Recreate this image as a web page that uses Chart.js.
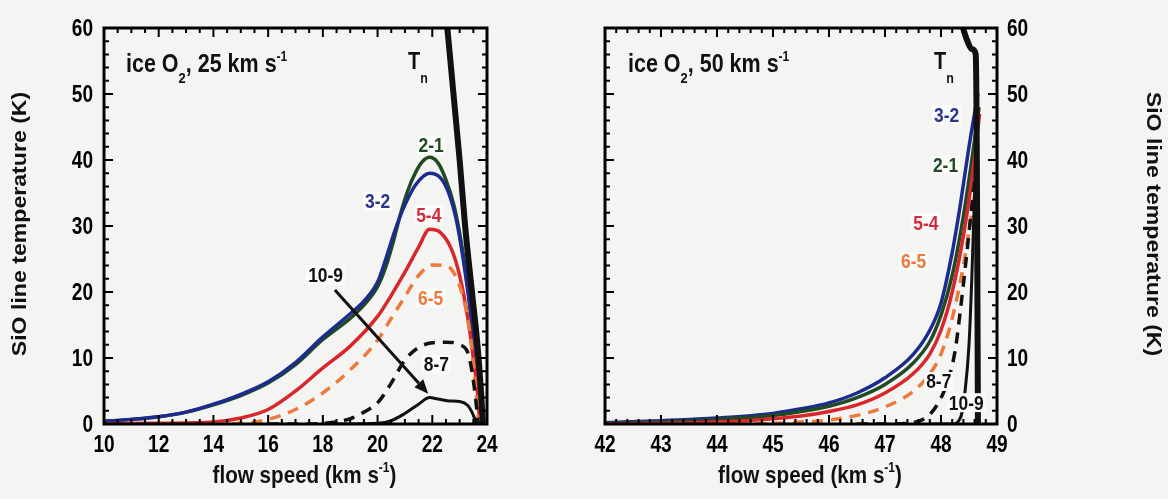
<!DOCTYPE html>
<html><head><meta charset="utf-8">
<script src="https://cdn.jsdelivr.net/npm/chart.js@4.4.0/dist/chart.umd.min.js"></script>
<style>
html,body{margin:0;padding:0;background:#f4f4f2;}
#wrap{position:relative;width:1168px;height:499px;overflow:hidden;}
canvas{position:absolute;top:0;}
</style></head><body>
<div id="wrap"><canvas id="c1" width="584" height="499" style="left:0"></canvas><canvas id="c2" width="584" height="499" style="left:584px"></canvas></div>
<script>
// ---------- Left panel: ice O2, 25 km/s ----------
const L_Tn_x  = [22.45,22.55,23.0,23.2,23.45,23.65,23.78,23.85];
const L_Tn_y  = [65,60,40,30,20,12,5,0];
const L_32_x  = [10,11,12,13,14,15,16,17,18,19,19.5,20,20.3,20.65,21,21.4,21.9,22.3,22.6,22.9,23.2,23.45,23.6,23.72,23.76];
const L_32_y  = [0.4,0.7,1.1,1.8,3.0,4.5,6.4,9.3,13.2,16.7,18.6,21.5,25.0,29.5,33.2,36.3,38.0,37.3,35.0,30.5,23.0,15.0,8.0,2.0,0];
const L_21_x  = [10,11,12,13,14,15,16,17,18,19,19.5,20,20.3,20.6,20.85,21.1,21.4,21.65,21.9,22.2,22.5,22.8,23.1,23.35,23.55,23.68,23.76];
const L_21_y  = [0.4,0.7,1.1,1.8,2.9,4.3,6.2,9.0,12.8,16.0,18.0,20.8,23.8,28.0,32.0,35.3,38.2,39.8,40.4,39.6,37.0,33.0,26.5,19.0,11.0,4.5,0];
const L_54_x  = [10,12,14,15,16,17,18,19,20,20.5,21,21.5,21.9,22.3,22.7,23.0,23.3,23.5,23.65,23.75];
const L_54_y  = [0.05,0.1,0.3,0.9,2.2,5.0,8.5,11.8,16.3,19.5,23.0,26.8,29.5,29.0,26.5,22.5,16.0,10.0,5.0,0];
const L_65_x  = [14,15,16,17,18,19,20,20.5,21,21.5,22,22.5,22.9,23.2,23.4,23.55,23.7];
const L_65_y  = [0,0.1,0.7,2.2,4.7,8.2,12.7,16.0,19.3,22.5,24.1,24.0,22.0,18.0,13.0,7.0,0];
const L_87_x  = [16,17,18,18.5,19,19.5,20,20.5,21,21.5,22,22.5,23,23.3,23.45,23.58,23.68];
const L_87_y  = [0,0,0.1,0.3,0.8,1.8,3.2,6.2,9.7,11.6,12.3,12.4,12.0,10.8,8.0,4.0,0];
const L_109_x = [18,19,20,20.5,21,21.5,21.9,22.2,22.6,23,23.3,23.45,23.55,23.62];
const L_109_y = [0,0,0.1,0.5,1.6,3.0,4.0,3.8,3.5,3.4,2.8,1.8,0.8,0];
const L_arrow_x = [18.44,21.85];
const L_arrow_y = [20.3,4.6];

// ---------- Right panel: ice O2, 50 km/s ----------
const R_Tn_x  = [48.36,48.45,48.56,48.62,48.64,48.65,48.66];
const R_Tn_y  = [61,58.5,56.8,56.0,40,20,0];
const R_32_x  = [42,43,44,45,45.5,46,46.5,47,47.5,47.8,48,48.2,48.35,48.5,48.66];
const R_32_y  = [0.2,0.5,0.9,1.6,2.3,3.2,4.7,7.0,10.5,14.2,18.3,26.0,33.5,42.0,50.0];
const R_21_x  = [42,43,44,45,45.5,46,46.5,47,47.5,47.8,48,48.2,48.4,48.55,48.68];
const R_21_y  = [0.1,0.3,0.7,1.3,1.9,2.7,4.0,6.0,9.2,12.5,16.5,22.5,31.5,40.0,48.0];
const R_54_x  = [42,43,44,45,45.5,46,46.5,47,47.5,47.8,48,48.2,48.4,48.55,48.69];
const R_54_y  = [0,0.1,0.3,0.8,1.2,1.9,2.9,4.7,7.6,10.6,14.2,20.0,28.5,37.0,47.0];
const R_65_x  = [44,45,45.5,46,46.5,47,47.5,47.8,48,48.2,48.4,48.55,48.66];
const R_65_y  = [0,0.1,0.3,0.6,1.3,2.6,4.9,7.6,10.6,16.0,24.0,32.0,38.0];
const R_87_x  = [46.5,47,47.4,47.7,47.9,48.1,48.25,48.35,48.45,48.55,48.63];
const R_87_y  = [0,0,0.1,0.8,2.5,6.0,11.0,17.5,25.0,33.0,39.0];
const R_109_x = [47.8,48.2,48.35,48.43,48.5,48.55,48.6,48.63];
const R_109_y = [0,0,1.0,5.0,12.0,22.0,35.0,45.0];

// ticks: min, max, major step, minor step
const L_xTicks = [10,24,2,0.5];
const R_xTicks = [42,49,1,0.2];
const yTicks   = [0,60,10,2];

const FONT = '"Liberation Sans", Arial, Helvetica, sans-serif';
const SX = 0.83;
const BG = '#f4f4f2', LABEL_BG = '#fbfbfa';
const C = {blue:'#1c2b8e', green:'#1f4a24', red:'#d8262b', orange:'#ec7a3c', black:'#111111'};

function pts(xs, ys){ return xs.map((x,i)=>({x:x, y:ys[i]})); }
function ds(xs, ys, color, width, dash){
  return {data:pts(xs,ys), borderColor:color, borderWidth:width, borderDash:dash||[],
          pointRadius:0, fill:false, cubicInterpolationMode:'monotone', borderCapStyle:'butt', borderJoinStyle:'round'};
}

function rich(ctx, parts, x, y, align, size, color, sx, bg){
  sx = sx || SX;
  ctx.save();
  ctx.textBaseline = 'alphabetic'; ctx.textAlign = 'left';
  let w = 0;
  const ms = parts.map(p=>{
    const s = p[1] ? p[2] : size;
    ctx.font = 'bold '+s+'px '+FONT;
    const m = ctx.measureText(p[0]).width*sx;
    w += m; return [s,m];
  });
  let cx = align==='center' ? x - w/2 : (align==='right' ? x - w : x);
  if (bg){ ctx.fillStyle = bg; ctx.fillRect(cx-2, y-size*0.78, w+4, size*0.9); }
  ctx.fillStyle = color;
  parts.forEach((p,i)=>{
    ctx.font = 'bold '+ms[i][0]+'px '+FONT;
    const dy = p[1] ? p[3] : 0;
    ctx.save(); ctx.translate(cx, y+dy); ctx.scale(sx,1); ctx.fillText(p[0],0,0); ctx.restore();
    cx += ms[i][1];
  });
  ctx.restore();
}

function makePlugin(cfg){
  return {
    id:'deco',
    beforeDraw(chart){
      const ctx = chart.ctx;
      ctx.save(); ctx.fillStyle = BG; ctx.fillRect(0,0,chart.width,chart.height); ctx.restore();
    },
    afterDatasetsDraw(chart){
      const ctx = chart.ctx, a = chart.chartArea, xs = chart.scales.x, ys = chart.scales.y;
      ctx.save();
      if (cfg.arrow){
        const x0 = xs.getPixelForValue(cfg.arrow[0][0]), y0 = ys.getPixelForValue(cfg.arrow[1][0]);
        const x1 = xs.getPixelForValue(cfg.arrow[0][1]), y1 = ys.getPixelForValue(cfg.arrow[1][1]);
        const ang = Math.atan2(y1-y0, x1-x0);
        const hl = 14, hw = 6;
        const bx = x1 - hl*Math.cos(ang), by = y1 - hl*Math.sin(ang);
        ctx.strokeStyle = C.black; ctx.lineWidth = 3;
        ctx.beginPath(); ctx.moveTo(x0,y0); ctx.lineTo(bx,by); ctx.stroke();
        ctx.fillStyle = C.black;
        ctx.beginPath(); ctx.moveTo(x1,y1);
        ctx.lineTo(bx + hw*Math.sin(ang), by - hw*Math.cos(ang));
        ctx.lineTo(bx - hw*Math.sin(ang), by + hw*Math.cos(ang));
        ctx.closePath(); ctx.fill();
      }
      // curve labels (opaque boxes)
      cfg.labels.forEach(l=>{
        const px = xs.getPixelForValue(l.x), py = ys.getPixelForValue(l.y);
        rich(ctx, [[l.t]], px, py+8, 'center', 21, l.c, SX, LABEL_BG);
      });
      const tx = xs.getPixelForValue(cfg.tn[0]), ty = ys.getPixelForValue(cfg.tn[1]);
      rich(ctx, [['T'],['n','sub',15,14]], tx-7, ty+8, 'left', 24, C.black);
      // frame
      ctx.strokeStyle = '#000'; ctx.lineWidth = 3;
      ctx.strokeRect(a.left, a.top, a.right-a.left, a.bottom-a.top);
      ctx.lineWidth = 2;
      const isMajor = (v,mn,maj)=>Math.abs((v-mn)/maj - Math.round((v-mn)/maj))<1e-6;
      {
        const [mn,mx,maj,mnr] = cfg.xt;
        const n = Math.round((mx-mn)/mnr);
        for (let i=0;i<=n;i++){
          const v = mn + i*mnr, L = isMajor(v,mn,maj)?9:5, p = xs.getPixelForValue(v);
          ctx.beginPath(); ctx.moveTo(p,a.bottom); ctx.lineTo(p,a.bottom-L);
          ctx.moveTo(p,a.top); ctx.lineTo(p,a.top+L); ctx.stroke();
        }
      }
      {
        const [mn,mx,maj,mnr] = yTicks;
        const n = Math.round((mx-mn)/mnr);
        for (let i=0;i<=n;i++){
          const v = mn + i*mnr, L = isMajor(v,mn,maj)?9:5, p = ys.getPixelForValue(v);
          ctx.beginPath(); ctx.moveTo(a.left,p); ctx.lineTo(a.left+L,p);
          ctx.moveTo(a.right,p); ctx.lineTo(a.right-L,p); ctx.stroke();
        }
      }
      xs.ticks.forEach(t=>{
        rich(ctx, [[String(t.value)]], xs.getPixelForValue(t.value), a.bottom+28, 'center', 23, '#000');
      });
      ys.ticks.forEach(t=>{
        const p = ys.getPixelForValue(t.value);
        if (cfg.side==='left') rich(ctx, [[String(t.value)]], a.left-11, p+8, 'right', 23, '#000');
        else rich(ctx, [[String(t.value)]], a.right+10, p+8, 'left', 23, '#000');
      });
      rich(ctx, [['ice O'],['2','sub',15,11],[', '+cfg.speed+' km s'],['-1','sup',14,-11]], a.left+cfg.titleDx, a.top+44, 'left', 25, C.black, 0.86);
      rich(ctx, [['flow speed (km s'],['-1','sup',14,-11],[')']], (a.left+a.right)/2+9, 483, 'center', 24, C.black, 0.86);
      ctx.save();
      ctx.font = 'bold 21px '+FONT; ctx.fillStyle = C.black; ctx.textAlign='center'; ctx.textBaseline='alphabetic';
      if (cfg.side==='left'){ ctx.translate(26, 224); ctx.rotate(-Math.PI/2); }
      else { ctx.translate(1147-584, 224); ctx.rotate(Math.PI/2); }
      ctx.scale(1.1,1);
      ctx.fillText('SiO line temperature (K)', 0, 0);
      ctx.restore();
      ctx.restore();
    }
  };
}

function makeChart(id, datasets, xt, side, pad, yw, plugin){
  return new Chart(document.getElementById(id), {
    type:'line',
    data:{datasets:datasets},
    options:{
      responsive:false, animation:false, devicePixelRatio:1,
      layout:{padding:pad},
      plugins:{legend:{display:false}, tooltip:{enabled:false}},
      scales:{
        x:{type:'linear', min:xt[0], max:xt[1],
           ticks:{stepSize:xt[2], autoSkip:false, display:false},
           grid:{display:false, drawTicks:false}, border:{display:false},
           afterFit:(s)=>{ s.height = 75; }},
        y:{type:'linear', position:side, min:yTicks[0], max:yTicks[1],
           ticks:{stepSize:yTicks[2], display:false},
           grid:{display:false, drawTicks:false}, border:{display:false},
           afterFit:(s)=>{ s.width = yw; }}
      }
    },
    plugins:[plugin]
  });
}

makeChart('c1', [
  ds(L_Tn_x, L_Tn_y, C.black, 6),
  ds(L_109_x, L_109_y, C.black, 3),
  ds(L_87_x, L_87_y, C.black, 3.5, [11,8]),
  ds(L_65_x, L_65_y, C.orange, 3.5, [11,8]),
  ds(L_54_x, L_54_y, C.red, 3.5),
  ds(L_32_x, L_32_y, C.blue, 3.5),
  ds(L_21_x, L_21_y, C.green, 3.5)
], L_xTicks, 'left', {left:0, right:97, top:28, bottom:0}, 104, makePlugin({
  xt:L_xTicks, side:'left', speed:'25', titleDx:22, tn:[21.37,55.0],
  arrow:[L_arrow_x, L_arrow_y],
  labels:[
    {t:'2-1', x:21.96, y:42.4, c:C.green},
    {t:'3-2', x:20.0, y:33.9, c:'#2a3590'},
    {t:'5-4', x:21.87, y:31.8, c:'#d42a3a'},
    {t:'6-5', x:21.94, y:19.2, c:C.orange},
    {t:'10-9', x:18.1, y:22.7, c:C.black},
    {t:'8-7', x:22.15, y:9.2, c:C.black}
  ]
}));

makeChart('c2', [
  ds(R_Tn_x, R_Tn_y, C.black, 6),
  ds(R_109_x, R_109_y, C.black, 3),
  ds(R_87_x, R_87_y, C.black, 3.5, [11,8]),
  ds(R_65_x, R_65_y, C.orange, 3.5, [11,8]),
  ds(R_54_x, R_54_y, C.red, 3.5),
  ds(R_21_x, R_21_y, C.green, 3.5),
  ds(R_32_x, R_32_y, C.blue, 3.5)
], R_xTicks, 'right', {left:21, right:0, top:28, bottom:0}, 171, makePlugin({
  xt:R_xTicks, side:'right', speed:'50', titleDx:23, tn:[48.0,55.0],
  labels:[
    {t:'3-2', x:48.1, y:47.0, c:'#2a3590'},
    {t:'2-1', x:48.08, y:39.4, c:C.green},
    {t:'5-4', x:47.73, y:30.6, c:'#d42a3a'},
    {t:'6-5', x:47.51, y:24.8, c:C.orange},
    {t:'8-7', x:47.96, y:6.6, c:C.black},
    {t:'10-9', x:48.45, y:3.4, c:C.black}
  ]
}));
</script>
</body></html>
